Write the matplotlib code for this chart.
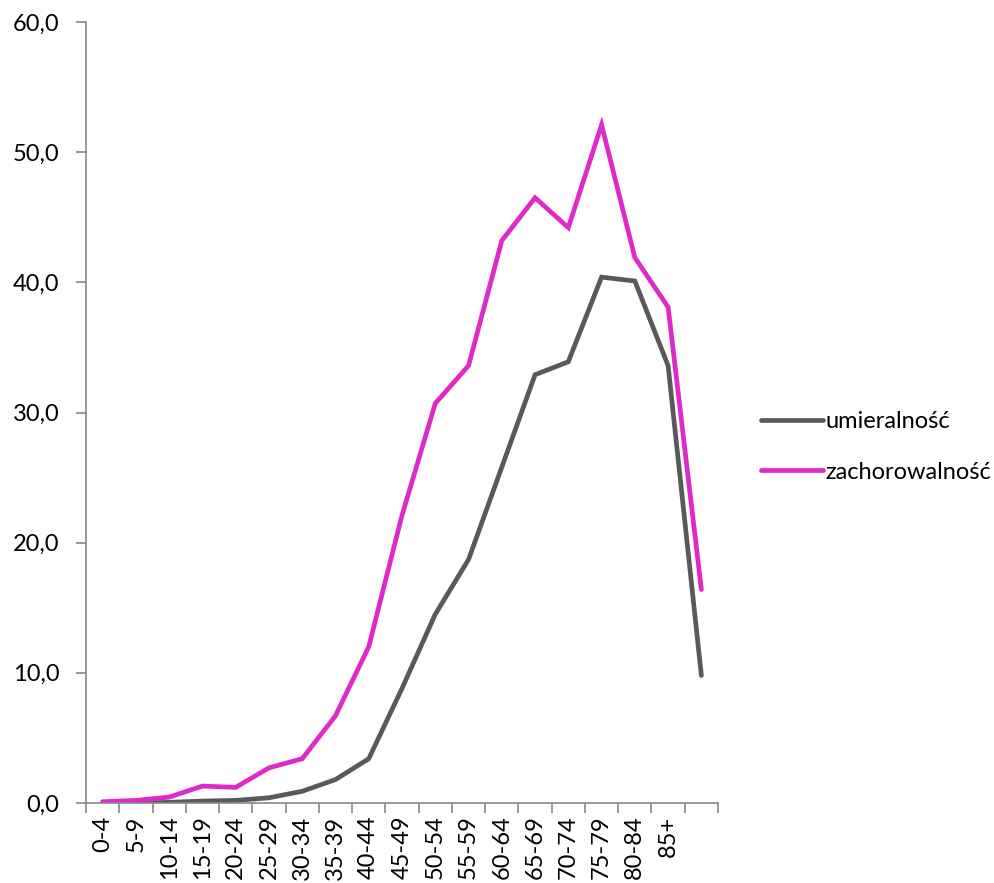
import matplotlib.pyplot as plt
import numpy as np

# Age groups (last category has no label)
age_groups = ['0-4', '5-9', '10-14', '15-19', '20-24', '25-29', '30-34', '35-39',
              '40-44', '45-49', '50-54', '55-59', '60-64', '65-69', '70-74',
              '75-79', '80-84', '85+', '']

umieralnosc = [0.0, 0.0, 0.05, 0.15, 0.2, 0.4, 0.9, 1.8, 3.4, 8.8, 14.5, 18.7,
               25.8, 32.9, 33.9, 40.4, 40.1, 33.6, 9.8]
zachorowalnosc = [0.1, 0.2, 0.45, 1.3, 1.2, 2.7, 3.4, 6.7, 12.0, 22.1, 30.7, 33.6,
                  43.2, 46.5, 44.2, 52.1, 41.9, 38.1, 16.4]

y_ticks = [0, 10, 20, 30, 40, 50, 60]

plt.rcParams['font.family'] = ['Lato', 'DejaVu Sans']
font_size = 17

fig = plt.figure(figsize=(9.94, 8.83), dpi=100)
ax = fig.add_axes([86 / 994, 80 / 883, 632 / 994, 781 / 883])

x = np.arange(len(age_groups))
ax.plot(x, umieralnosc, color='#595959', linewidth=3.4, label='umieralność',
        solid_capstyle='round', solid_joinstyle='miter')
ax.plot(x, zachorowalnosc, color='#DF2AC9', linewidth=3.4, label='zachorowalność',
        solid_capstyle='round', solid_joinstyle='miter')

ax.set_xlim(-0.5, len(age_groups) - 0.5)
ax.set_ylim(0, 60)

# ticks at category boundaries, labels at centres
ax.set_xticks(np.arange(-0.5, len(age_groups), 1.0))
ax.set_xticklabels([])
ax.set_xticks(x, minor=True)
ax.set_xticklabels(age_groups, minor=True, rotation=90, fontsize=font_size, va='top')
ax.tick_params(axis='x', which='major', direction='out', length=7, width=1.2, color='#888888')
ax.tick_params(axis='x', which='minor', length=0, pad=9)

ax.set_yticks(y_ticks)
ax.set_yticklabels([f'{v:.1f}'.replace('.', ',') for v in y_ticks], fontsize=font_size)
ax.tick_params(axis='y', direction='out', length=7, width=1.2, color='#888888', pad=12)

for side in ['top', 'right']:
    ax.spines[side].set_visible(False)
for side in ['left', 'bottom']:
    ax.spines[side].set_color('#888888')
    ax.spines[side].set_linewidth(1.2)

ax.legend(loc='center left', bbox_to_anchor=(1.035, 0.456), frameon=False,
          fontsize=font_size, handlelength=2.6, handletextpad=0.1, labelspacing=1.25)

plt.savefig('out.png', dpi=100)
plt.close()
